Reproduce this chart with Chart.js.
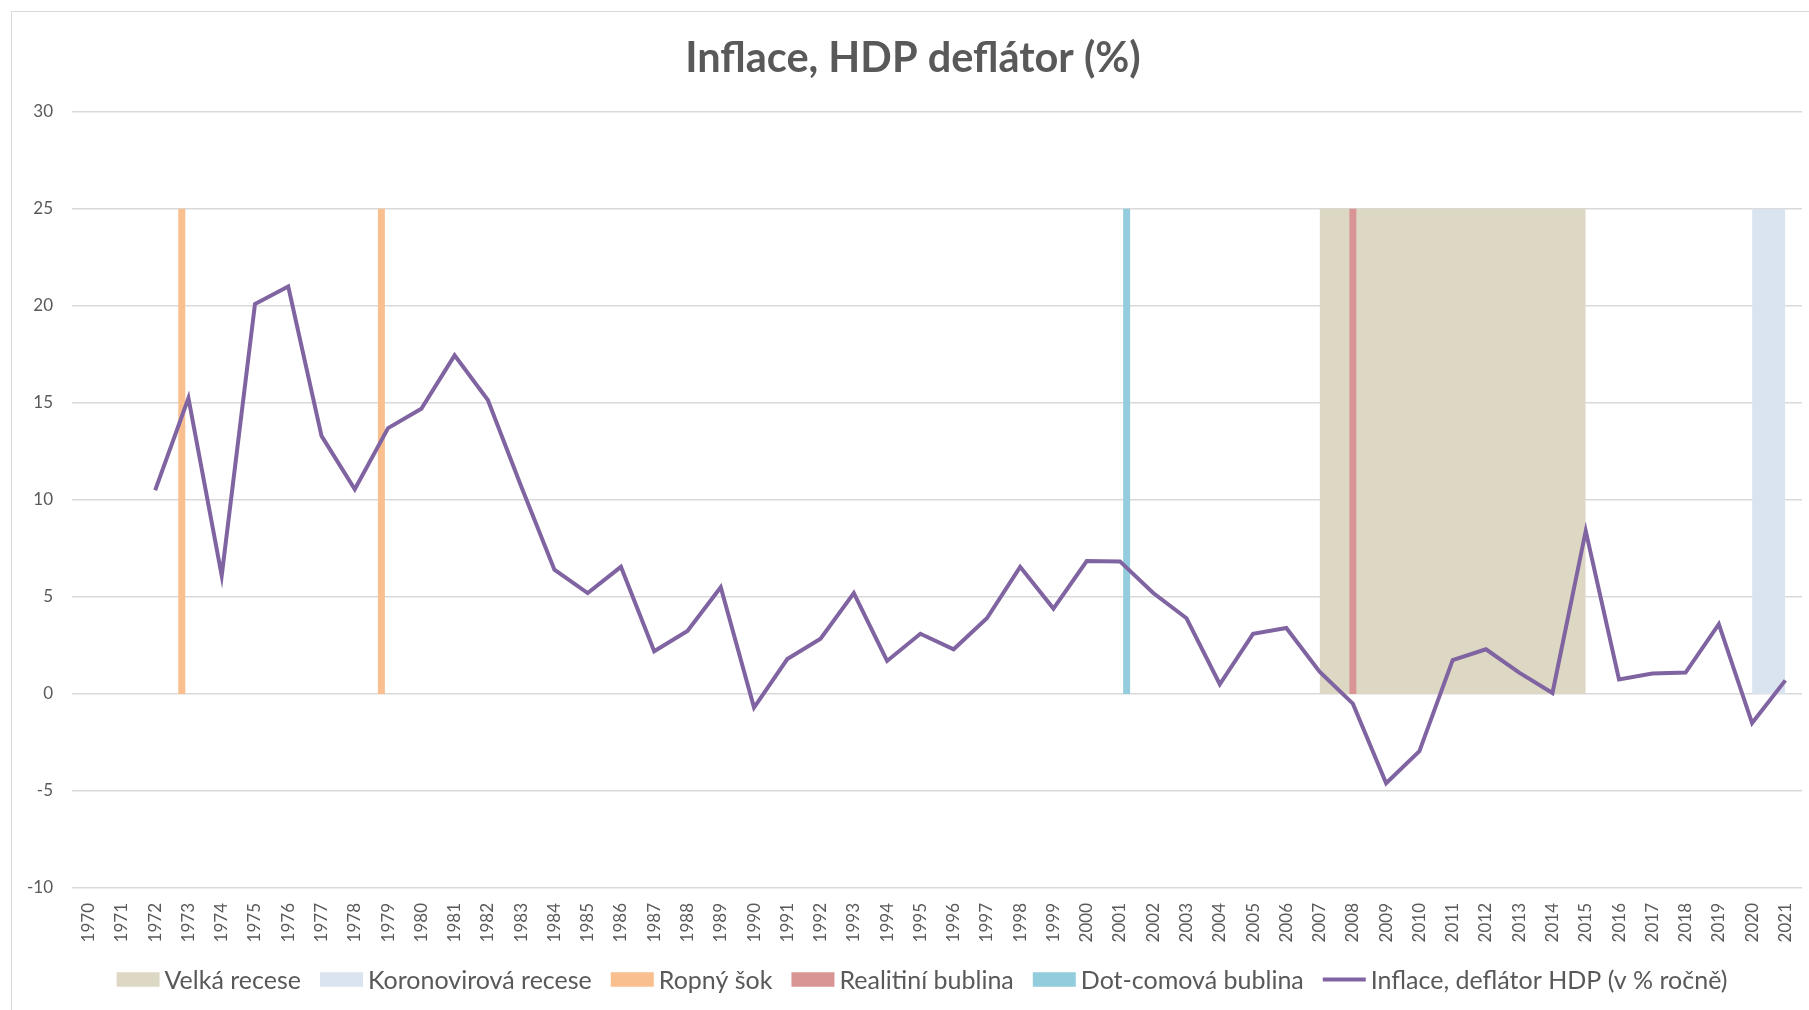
<!DOCTYPE html>
<html>
<head>
<meta charset="utf-8">
<script src="https://cdn.jsdelivr.net/npm/chart.js@4.4.1/dist/chart.umd.min.js"></script>
<style>
  html, body { margin: 0; padding: 0; background: #fff; overflow: hidden; width: 1809px; height: 1010px; }
  #frame { position: absolute; left: 11px; top: 11px; width: 1818px; height: 1000px; border: 1px solid #d9d9d9; box-sizing: border-box; }
  canvas { display: block; }
</style>
</head>
<body>
<div id="frame"><canvas id="c" width="1816" height="998"></canvas></div>
<script>
// ---- data ----
const tickYears = [1970,1971,1972,1973,1974,1975,1976,1977,1978,1979,1980,1981,1982,1983,1984,1985,1986,1987,1988,1989,1990,1991,1992,1993,1994,1995,1996,1997,1998,1999,2000,2001,2002,2003,2004,2005,2006,2007,2008,2009,2010,2011,2012,2013,2014,2015,2016,2017,2018,2019,2020,2021];
const years = [1972,1973,1974,1975,1976,1977,1978,1979,1980,1981,1982,1983,1984,1985,1986,1987,1988,1989,1990,1991,1992,1993,1994,1995,1996,1997,1998,1999,2000,2001,2002,2003,2004,2005,2006,2007,2008,2009,2010,2011,2012,2013,2014,2015,2016,2017,2018,2019,2020,2021];
const inflation = [10.5,15.25,6.1,20.1,21.0,13.3,10.55,13.7,14.7,17.45,15.15,10.7,6.4,5.2,6.55,2.2,3.25,5.5,-0.7,1.8,2.85,5.2,1.7,3.1,2.3,3.9,6.55,4.4,6.85,6.83,5.2,3.9,0.5,3.1,3.4,1.15,-0.5,-4.6,-2.95,1.75,2.3,1.1,0.05,8.4,0.75,1.05,1.1,3.6,-1.5,0.7];
const bandHeight = 25;
const velkaRecese = [2007, 2015];        // start, end
const koronaRecese = [2020, 2021];       // start, end
const ropnySok = [1972.8, 1978.8];       // event positions
const realitniBublina = [2008.0];
const dotcomBublina = [2001.2];
const yTicks = { min: -10, max: 30, step: 5 };
const labels = ['Velká recese','Koronovirová recese','Ropný šok','Realitiní bublina','Dot-comová bublina','Inflace, deflátor HDP (v % ročně)'];

// ---- build ----
function span(arr) { return arr.map(x => ({x, y: bandHeight})); }
function spikes(arr) {
  const out = [];
  arr.forEach((x, i) => {
    if (i > 0) out.push({x: (x + arr[i-1]) / 2, y: null});
    out.push({x, y: 0}); out.push({x, y: bandHeight});
  });
  return out;
}
const FONT = 'Lato';
const TXT = '#595959';

// Legend drawn from the chart's datasets (Excel-like spacing)
const excelLegend = {
  id: 'excelLegend',
  afterDraw(chart) {
    const ctx = chart.ctx;
    const sw = 43, sh = 14.5, gapText = 5, gapItem = 19;
    const cx = 910, cy = 967.5;
    ctx.save();
    ctx.font = '25px ' + FONT;
    ctx.textBaseline = 'middle';
    ctx.textAlign = 'left';
    const items = chart.data.datasets.map((ds, i) => ({
      text: ds.label, isLine: ds.legendStyle === 'line',
      color: ds.legendStyle === 'line' ? ds.borderColor : (ds.fill ? ds.backgroundColor : ds.borderColor),
      w: ctx.measureText(ds.label).width
    }));
    const total = items.reduce((s, it) => s + sw + gapText + it.w, 0) + gapItem * (items.length - 1);
    let x = cx - total / 2;
    items.forEach(it => {
      if (it.isLine) {
        ctx.strokeStyle = it.color; ctx.lineWidth = 4; ctx.lineCap = 'butt';
        ctx.beginPath(); ctx.moveTo(x, cy); ctx.lineTo(x + sw, cy); ctx.stroke();
      } else {
        ctx.fillStyle = it.color;
        ctx.fillRect(x, cy - sh / 2, sw, sh);
      }
      ctx.fillStyle = TXT;
      ctx.fillText(it.text, x + sw + gapText, cy + 1);
      x += sw + gapText + it.w + gapItem;
    });
    ctx.restore();
  }
};

new Chart(document.getElementById('c'), {
  type: 'line',
  data: {
    datasets: [
      { label: labels[0], data: span(velkaRecese), backgroundColor: '#ddd8c4', borderWidth: 0, pointRadius: 0, fill: 'origin', order: 5 },
      { label: labels[1], data: span(koronaRecese), backgroundColor: '#dae3f0', borderWidth: 0, pointRadius: 0, fill: 'origin', order: 5 },
      { label: labels[2], data: spikes(ropnySok), borderColor: '#f9bf8f', backgroundColor: '#f9bf8f', borderWidth: 7, borderCapStyle: 'butt', pointRadius: 0, fill: false, spanGaps: false, order: 2 },
      { label: labels[3], data: spikes(realitniBublina), borderColor: '#d99594', backgroundColor: '#d99594', borderWidth: 7, borderCapStyle: 'butt', pointRadius: 0, fill: false, order: 2 },
      { label: labels[4], data: spikes(dotcomBublina), borderColor: '#93cddd', backgroundColor: '#93cddd', borderWidth: 7, borderCapStyle: 'butt', pointRadius: 0, fill: false, order: 2 },
      { label: labels[5], legendStyle: 'line', data: years.map((x, i) => ({x, y: inflation[i]})), borderColor: '#8064a2', backgroundColor: '#8064a2', borderWidth: 4, borderJoinStyle: 'miter', pointRadius: 0, fill: false, tension: 0, order: 0 }
    ]
  },
  plugins: [excelLegend],
  options: {
    responsive: false,
    animation: false,
    events: [],
    layout: { padding: { left: 12, right: 26, top: 0, bottom: 62 } },
    plugins: {
      title: {
        display: true, text: 'Inflace, HDP deflátor (%)', color: TXT,
        font: { family: FONT, size: 41.5, weight: 'bold' },
        padding: { top: 22, bottom: 28 }
      },
      legend: { display: false },
      tooltip: { enabled: false }
    },
    scales: {
      x: {
        type: 'linear', min: 1969.5, max: 2021.5,
        afterBuildTicks(scale) { scale.ticks = tickYears.map(v => ({value: v})); },
        afterFit(scale) { scale.height = 60; },
        grid: { display: false },
        border: { display: false },
        ticks: { color: TXT, font: { family: FONT, size: 17 }, minRotation: 90, maxRotation: 90, padding: 7, autoSkip: false, callback: v => String(v) }
      },
      y: {
        min: yTicks.min, max: yTicks.max,
        afterFit(scale) { scale.width = 48; },
        grid: { color: '#d9d9d9', lineWidth: 1.5, drawTicks: false },
        border: { display: false },
        ticks: { stepSize: yTicks.step, color: TXT, font: { family: FONT, size: 17 }, padding: 19 }
      }
    }
  }
});
</script>
</body>
</html>
